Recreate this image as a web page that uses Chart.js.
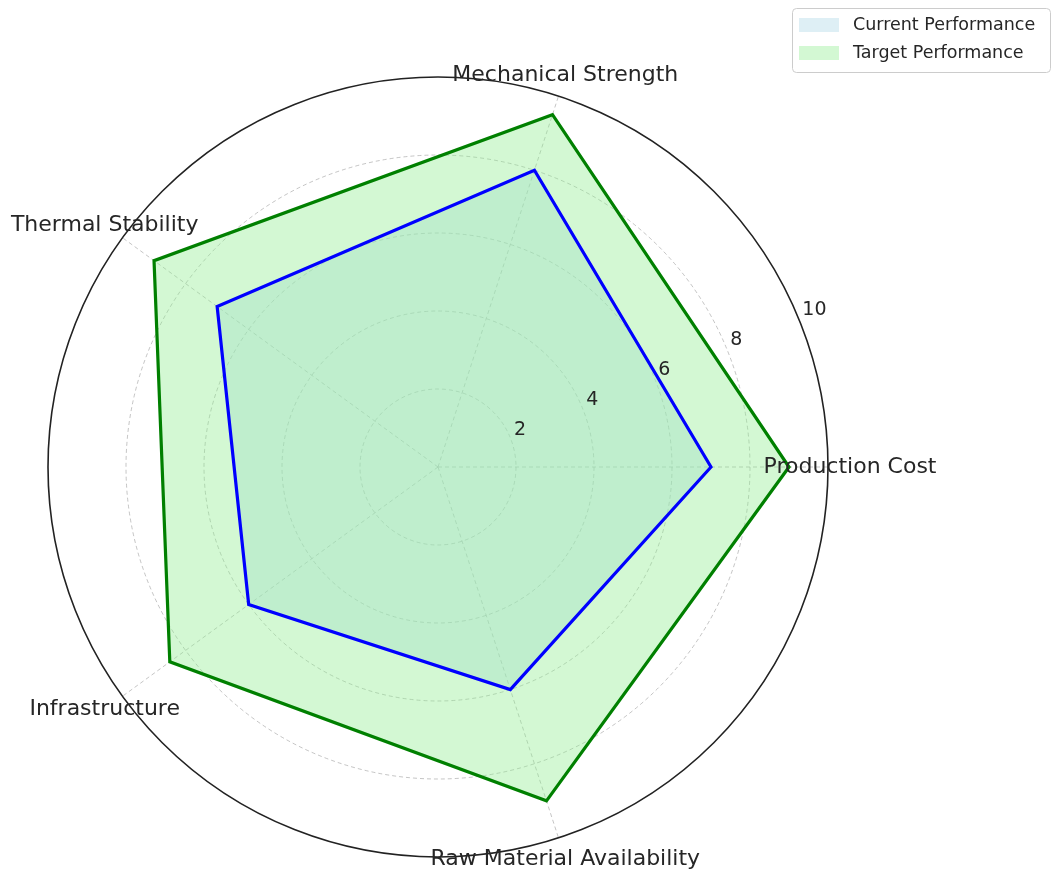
<!DOCTYPE html>
<html>
<head>
<meta charset="utf-8">
<script src="https://cdn.jsdelivr.net/npm/chart.js@4"></script>
<style>
  html, body { margin: 0; padding: 0; background: #fff; }
  #radar { display: block; }
</style>
</head>
<body>
<canvas id="radar" width="1055" height="872"></canvas>
<script>
const categories = ['Production Cost', 'Mechanical Strength', 'Thermal Stability', 'Infrastructure', 'Raw Material Availability'];
const currentValues = [7, 8, 7, 6, 6];
const targetValues = [9, 9.5, 9, 8.5, 9];
const tickValues = [2, 4, 6, 8, 10];
const seriesNames = ['Current Performance', 'Target Performance'];

// matplotlib goes counter-clockwise from the right, chart.js goes clockwise
const drawOrder = [0, 4, 3, 2, 1];
const labels = drawOrder.map(i => categories[i]);
const pick = arr => drawOrder.map(i => arr[i]);

const FONT = '"DejaVu Sans", sans-serif';

// tick labels along 22.5deg, axis labels centred outside the circle, boxed legend
const overlayPlugin = {
    id: 'overlay',
    afterDraw(chart) {
        const ctx = chart.ctx;
        const scale = chart.scales.r;
        const cx = scale.xCenter, cy = scale.yCenter;

        ctx.save();
        ctx.fillStyle = '#262626';
        ctx.font = '19px ' + FONT;
        ctx.textAlign = 'left';
        ctx.textBaseline = 'bottom';
        const a = 22.5 * Math.PI / 180;
        tickValues.forEach(v => {
            const d = scale.getDistanceFromCenterForValue(v);
            ctx.fillText(String(v), cx + Math.cos(a) * d + 4, cy - Math.sin(a) * d + 2);
        });

        ctx.font = '22px ' + FONT;
        ctx.textAlign = 'center';
        ctx.textBaseline = 'middle';
        labels.forEach((lab, i) => {
            const p = scale.getPointPosition(i, scale.drawingArea + 22);
            ctx.fillText(lab, p.x, p.y);
        });

        // legend
        const lx = 792, ly = 8, lw = 258, lh = 64;
        ctx.beginPath();
        ctx.roundRect(lx + 0.5, ly + 0.5, lw, lh, 4);
        ctx.fillStyle = 'rgba(255,255,255,0.8)';
        ctx.fill();
        ctx.strokeStyle = '#cccccc';
        ctx.lineWidth = 1;
        ctx.stroke();
        ctx.font = '17.5px ' + FONT;
        ctx.textAlign = 'left';
        ctx.textBaseline = 'middle';
        chart.data.datasets.forEach(ds => {
            const yy = ly + 17 + ds.legendRow * 28;
            ctx.fillStyle = ds.backgroundColor;
            ctx.fillRect(lx + 7, yy - 7, 40, 14);
            ctx.fillStyle = '#262626';
            ctx.fillText(ds.label, lx + 61, yy);
        });
        ctx.restore();
    }
};

const ctx = document.getElementById('radar').getContext('2d');
new Chart(ctx, {
    type: 'radar',
    data: {
        labels: labels,
        datasets: [
            {
                label: seriesNames[1],
                data: pick(targetValues),
                borderColor: '#008000',
                backgroundColor: 'rgba(144, 238, 144, 0.4)',
                borderWidth: 3.2,
                fill: true,
                pointRadius: 0,
                order: 0,
                legendRow: 1
            },
            {
                label: seriesNames[0],
                data: pick(currentValues),
                borderColor: '#0000ff',
                backgroundColor: 'rgba(173, 216, 230, 0.4)',
                borderWidth: 3.2,
                fill: true,
                pointRadius: 0,
                order: 1,
                legendRow: 0
            }
        ]
    },
    options: {
        responsive: false,
        animation: false,
        layout: { padding: { left: 48, top: 77, right: 227, bottom: 15 } },
        plugins: {
            legend: { display: false },
            tooltip: { enabled: false },
            filler: { drawTime: 'beforeDatasetsDraw' }
        },
        elements: { line: { tension: 0, borderJoinStyle: 'miter' } },
        scales: {
            r: {
                min: 0,
                max: 10,
                startAngle: 90,
                ticks: { stepSize: 2, display: false },
                pointLabels: { display: false },
                grid: {
                    circular: true,
                    color: c => c.index === tickValues.length ? '#222222' : 'rgba(150,150,150,0.55)',
                    lineWidth: c => c.index === tickValues.length ? 1.6 : 1
                },
                border: {
                    dash: c => c.index === tickValues.length ? [] : [4, 3]
                },
                angleLines: {
                    color: 'rgba(150,150,150,0.55)',
                    lineWidth: 1,
                    borderDash: [4, 3]
                }
            }
        }
    },
    plugins: [overlayPlugin]
});
</script>
</body>
</html>
